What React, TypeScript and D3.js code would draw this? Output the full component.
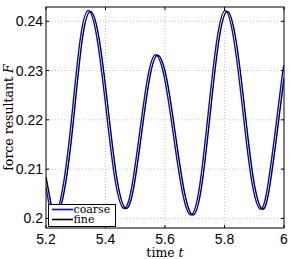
import React from "react";
import * as d3 from "d3";

// values
const timeFine = [
  5.2, 5.218, 5.2353, 5.2639, 5.2925, 5.321, 5.3496, 5.3794, 5.4093, 5.4391,
  5.4689, 5.4956, 5.5222, 5.5489, 5.5755, 5.6054, 5.6353, 5.6652, 5.6951,
  5.7237, 5.7523, 5.7808, 5.8094, 5.8388, 5.8683, 5.8977, 5.9271, 5.95, 5.975,
  6.0,
];
const forceFine = [
  0.2084, 0.2026, 0.2003, 0.2064, 0.22, 0.2359, 0.242, 0.2362, 0.222, 0.2078,
  0.202, 0.2065, 0.2176, 0.2286, 0.2331, 0.2284, 0.2169, 0.2054, 0.2007,
  0.2067, 0.2214, 0.236, 0.242, 0.2361, 0.222, 0.2078, 0.2019, 0.2058, 0.2165,
  0.2285,
];
const timeCoarse = [
  5.2, 5.211, 5.2283, 5.2569, 5.2855, 5.314, 5.3426, 5.3724, 5.4023, 5.4321,
  5.4619, 5.4886, 5.5152, 5.5419, 5.5685, 5.5984, 5.6283, 5.6582, 5.6881,
  5.7167, 5.7453, 5.7738, 5.8024, 5.8318, 5.8613, 5.8907, 5.9201, 5.943, 5.968,
  5.993, 6.0,
];
const forceCoarse = [
  0.2064, 0.2026, 0.2003, 0.2064, 0.22, 0.2359, 0.2422, 0.2362, 0.222, 0.2078,
  0.202, 0.2065, 0.2176, 0.2286, 0.2332, 0.2284, 0.2169, 0.2054, 0.2007,
  0.2067, 0.2214, 0.236, 0.2422, 0.2361, 0.222, 0.2078, 0.2019, 0.2058, 0.2165,
  0.2285, 0.231,
];
const xTicks = [5.2, 5.4, 5.6, 5.8, 6];
const yTicks = [0.2, 0.21, 0.22, 0.23, 0.24];
const seriesNames = ["coarse", "fine"];
const seriesColors = ["#0000ff", "#000000"];

const W = 291;
const H = 259;
const left = 46;
const right = 284;
const top = 7;
const bottom = 228;

export default function App() {
  const x = d3.scaleLinear().domain([5.2, 6.0]).range([left, right]);
  const y = d3.scaleLinear().domain([0.19805, 0.2429]).range([bottom, top]);

  const line = d3
    .line<[number, number]>()
    .x((d) => x(d[0]))
    .y((d) => y(d[1]))
    .curve(d3.curveNatural);

  const coarse = timeCoarse.map((t, i) => [t, forceCoarse[i]] as [number, number]);
  const fine = timeFine.map((t, i) => [t, forceFine[i]] as [number, number]);
  const series = [coarse, fine];

  const tick = 3;
  const serif = "DejaVu Serif, serif";
  const sans = "Liberation Sans, Arial, sans-serif";

  return (
    <svg
      width={W}
      height={H}
      style={{ position: "absolute", left: 0, top: 0, background: "#fff" }}
    >
      <defs>
        <clipPath id="plot">
          <rect x={left} y={top} width={right - left} height={bottom - top} />
        </clipPath>
      </defs>
      <rect x={0} y={0} width={W} height={H} fill="#fff" />

      {/* grid */}
      {xTicks.slice(1, -1).map((t) => (
        <line
          key={"gx" + t}
          x1={x(t)}
          x2={x(t)}
          y1={top}
          y2={bottom}
          stroke="#b8b8b8"
          strokeWidth={0.8}
          strokeDasharray="1,2"
        />
      ))}
      {yTicks.map((v) => (
        <line
          key={"gy" + v}
          x1={left}
          x2={right}
          y1={y(v)}
          y2={y(v)}
          stroke="#b8b8b8"
          strokeWidth={0.8}
          strokeDasharray="1,2"
        />
      ))}

      {/* curves */}
      <g clipPath="url(#plot)">
        {series.map((s, i) => (
          <path
            key={seriesNames[i]}
            d={line(s) ?? ""}
            fill="none"
            stroke={seriesColors[i]}
            strokeWidth={1.4}
          />
        ))}
      </g>

      {/* box and ticks */}
      <rect
        x={left}
        y={top}
        width={right - left}
        height={bottom - top}
        fill="none"
        stroke="#000"
        strokeWidth={1}
      />
      {xTicks.map((t) => (
        <g key={"tx" + t}>
          <line x1={x(t)} x2={x(t)} y1={bottom} y2={bottom - tick} stroke="#000" />
          <line x1={x(t)} x2={x(t)} y1={top} y2={top + tick} stroke="#000" />
          <text
            x={x(t)}
            y={243.5}
            textAnchor="middle"
            fontFamily={sans}
            fontSize={14}
          >
            {d3.format("~g")(t)}
          </text>
        </g>
      ))}
      {yTicks.map((v) => (
        <g key={"ty" + v}>
          <line x1={left} x2={left + tick} y1={y(v)} y2={y(v)} stroke="#000" />
          <line x1={right} x2={right - tick} y1={y(v)} y2={y(v)} stroke="#000" />
          <text
            x={43}
            y={y(v)}
            dy="0.36em"
            textAnchor="end"
            fontFamily={sans}
            fontSize={14}
          >
            {d3.format("~g")(v)}
          </text>
        </g>
      ))}

      {/* axis titles */}
      <text
        x={165}
        y={257}
        textAnchor="middle"
        fontFamily={serif}
        fontSize={12.5}
      >
        time <tspan fontStyle="italic">t</tspan>
      </text>
      <text
        transform={`translate(12.5,${(top + bottom) / 2}) rotate(-90)`}
        textAnchor="middle"
        fontFamily={serif}
        fontSize={12.5}
      >
        force resultant <tspan fontStyle="italic">F</tspan>
      </text>

      {/* legend */}
      <rect x={48.5} y={204.5} width={67} height={22} fill="#fff" stroke="#000" />
      {seriesNames.map((name, i) => (
        <g key={"lg" + name}>
          <line
            x1={52}
            x2={73}
            y1={209.5 + i * 10}
            y2={209.5 + i * 10}
            stroke={seriesColors[i]}
            strokeWidth={1.6}
          />
          <text
            x={73.5}
            y={212.5 + i * 10}
            fontFamily={serif}
            fontSize={11}
          >
            {name}
          </text>
        </g>
      ))}
    </svg>
  );
}
